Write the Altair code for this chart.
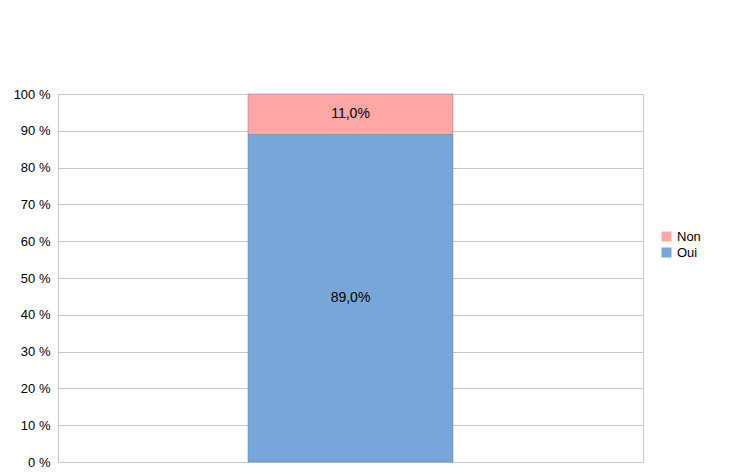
import altair as alt
import pandas as pd

categories = ["Oui", "Non"]
shares = [0.89, 0.11]
labels = ["89,0%", "11,0%"]
ticks = [0, 0.1, 0.2, 0.3, 0.4, 0.5, 0.6, 0.7, 0.8, 0.9, 1.0]

df = pd.DataFrame({"x": ["A", "A"], "serie": categories, "part": shares, "label": labels, "ordre": [0, 1]})

y_axis = alt.Axis(format=".0%", values=ticks, title=None, labelOverlap=False,
                  labelExpr="replace(datum.label, '%', ' %')",
                  labelFont="Liberation Sans", labelFontSize=13, labelColor="#000",
                  grid=True, gridColor="#c8c8c8", domain=True, domainColor="#c8c8c8",
                  ticks=False, labelPadding=8)
y_scale = alt.Scale(domain=[0, 1], nice=False)

base = alt.Chart(df).encode(x=alt.X("x:N", axis=None, scale=alt.Scale(paddingInner=0.6, paddingOuter=0.6)))

bars = base.mark_bar(size=205, stroke="#5a7fa8", strokeWidth=0.5).encode(
    y=alt.Y("part:Q", stack="zero", scale=y_scale, axis=y_axis),
    color=alt.Color("serie:N", scale=alt.Scale(domain=["Non", "Oui"], range=["#ffa6a6", "#78a6d8"]),
                    legend=alt.Legend(title=None, labelFont="Liberation Sans", labelFontSize=13,
                                      symbolType="square", symbolStrokeWidth=0, orient="none",
                                      legendX=602, legendY=136)),
    order=alt.Order("ordre:Q"),
)

text = base.mark_text(font="Liberation Sans", fontSize=14, color="#000").encode(
    y=alt.Y("mid:Q", scale=y_scale, axis=y_axis),
    text="label:N",
).transform_stack(stack="part", groupby=["x"], as_=["lo", "hi"], sort=[alt.SortField("ordre")]
).transform_calculate(mid="(datum.lo + datum.hi) / 2")

chart = (bars + text).properties(
    width=585, height=368, padding={"top": 80, "left": 5, "right": 5, "bottom": 5}
).configure_view(stroke="#c8c8c8")

chart.save("out.html", embed_options={"renderer": "svg", "actions": False})
